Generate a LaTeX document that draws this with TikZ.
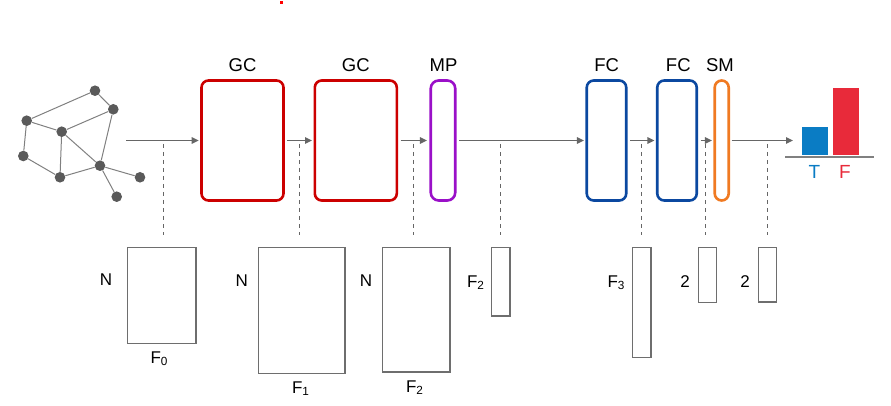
\documentclass[tikz,border=0pt]{standalone}
\usepackage{fontspec}
\setmainfont{Liberation Sans}
\usetikzlibrary{arrows.meta}
\definecolor{gcred}{HTML}{CC0000}
\definecolor{mppurple}{HTML}{9A10C8}
\definecolor{fcblue}{HTML}{0B48A0}
\definecolor{smorange}{HTML}{F07A22}
\definecolor{barblue}{HTML}{0A7CC4}
\definecolor{barred}{HTML}{E82A3A}
\definecolor{linegray}{HTML}{666666}
\definecolor{nodegray}{HTML}{5A5A5A}
\definecolor{edgegray}{HTML}{808080}
\definecolor{boxgray}{HTML}{6E6E6E}
\newcommand{\subidx}[1]{\raisebox{-1.8pt}{\fontsize{11.8}{12}\selectfont #1}}
\begin{document}
\begin{tikzpicture}[x=1pt,y=-1pt,
  every node/.style={font=\fontsize{17}{19}\selectfont},
  layer/.style={draw, line width=2.6pt, rounded corners=7pt, inner sep=0pt, fill=white},
  gnode/.style={circle, fill=nodegray, inner sep=0pt, minimum size=10.6pt},
  gedge/.style={edgegray, line width=1pt},
  arr/.style={linegray, line width=1.5pt, -{Triangle[length=7pt,width=6.5pt]}},
  dashln/.style={linegray, line width=1pt, dash pattern=on 4pt off 4pt},
  mat/.style={draw=boxgray, line width=1.6pt, inner sep=0pt, anchor=north west},
  lbl/.style={inner sep=0pt},
  toplbl/.style={inner sep=0pt, font=\fontsize{18.5}{20}\selectfont},
  clslbl/.style={inner sep=0pt, font=\fontsize{19}{21}\selectfont}
]
\useasboundingbox (0,0) rectangle (891,406);
\fill[red] (279.5,1.5) rectangle (282.5,4.5);

% input graph
\node[gnode] (n1) at (95,90.7) {};
\node[gnode] (n2) at (113.3,109.3) {};
\node[gnode] (n3) at (26.7,120.7) {};
\node[gnode] (n4) at (61.7,131.7) {};
\node[gnode] (n5) at (23.3,156) {};
\node[gnode] (n6) at (100,165.7) {};
\node[gnode] (n7) at (60,177.3) {};
\node[gnode] (n8) at (140,177.3) {};
\node[gnode] (n9) at (116.7,196.7) {};
\draw[gedge] (n1) -- (n3);
\draw[gedge] (n1) -- (n2);
\draw[gedge] (n3) -- (n4);
\draw[gedge] (n4) -- (n2);
\draw[gedge] (n2) -- (n6);
\draw[gedge] (n3) -- (n5);
\draw[gedge] (n5) -- (n7);
\draw[gedge] (n4) -- (n7);
\draw[gedge] (n4) -- (n6);
\draw[gedge] (n7) -- (n6);
\draw[gedge] (n6) -- (n8);
\draw[gedge] (n6) -- (n9);

% layers
\node[layer, draw=gcred, minimum width=82pt, minimum height=120pt] (gc1) at (242.5,140.5) {};
\node[layer, draw=gcred, minimum width=82pt, minimum height=120pt] (gc2) at (355.8,140.5) {};
\node[layer, draw=mppurple, rounded corners=8pt, minimum width=24.5pt, minimum height=120pt] (mp) at (443,140.5) {};
\node[layer, draw=fcblue, minimum width=39.5pt, minimum height=120pt] (fc1) at (606.5,140.5) {};
\node[layer, draw=fcblue, minimum width=39.5pt, minimum height=120pt] (fc2) at (677,140.5) {};
\node[layer, draw=smorange, rounded corners=7pt, minimum width=14pt, minimum height=120pt] (sm) at (721.7,140.5) {};

\node[toplbl] at (242.5,65.5) {GC};
\node[toplbl] at (355.8,65.5) {GC};
\node[toplbl] at (443.5,65.5) {MP};
\node[toplbl] at (606.7,65.5) {FC};
\node[toplbl] at (678.3,65.5) {FC};
\node[toplbl] at (720,65.5) {SM};

% output bars
\fill[barblue] (801.7,126.7) rectangle (827.7,155.3);
\fill[barred] (833.3,88.3) rectangle (859,155.3);
\draw[color=edgegray, line width=2pt] (785,156.7) -- (874.3,156.7);
\node[clslbl, text=barblue] (tl) at (814.3,172) {T};
\node[clslbl, text=barred] (fl) at (845,172) {F};

% main arrows
\coordinate (a0) at (126,140.5);
\coordinate (a6) at (793,140.5);
\draw[arr] (a0) -- ([xshift=-1.5pt]gc1.west);
\draw[arr] ([xshift=2.5pt]gc1.east) -- ([xshift=-1.5pt]gc2.west);
\draw[arr] ([xshift=2.5pt]gc2.east) -- ([xshift=-2.5pt]mp.west);
\draw[arr] ([xshift=2.5pt]mp.east) -- ([xshift=-1.5pt]fc1.west);
\draw[arr] ([xshift=2.5pt]fc1.east) -- ([xshift=-1.5pt]fc2.west);
\draw[arr] ([xshift=2.5pt]fc2.east) -- ([xshift=-1.5pt]sm.west);
\draw[arr] ([xshift=1.5pt]sm.east) -- (a6);

% feature matrices
\node[mat, minimum width=68.3pt, minimum height=96pt] (r0) at (126.7,246.7) {};
\node[mat, minimum width=86.3pt, minimum height=126pt] (r1) at (257.7,246.7) {};
\node[mat, minimum width=67.6pt, minimum height=124.3pt] (r2) at (381.7,246.7) {};
\node[mat, minimum width=18.6pt, minimum height=68.3pt] (r3) at (490.7,246.7) {};
\node[mat, minimum width=18.3pt, minimum height=110pt] (r4) at (631.7,246.7) {};
\node[mat, minimum width=18pt, minimum height=55pt] (r5) at (697.7,246.7) {};
\node[mat, minimum width=18pt, minimum height=54.5pt] (r6) at (757.7,246.7) {};

\node[lbl] at (106,279.5) {N};
\node[lbl] at (159,358.5) {F\subidx{0}};
\node[lbl] at (241.7,281) {N};
\node[lbl] at (300.5,388.5) {F\subidx{1}};
\node[lbl] at (366,281) {N};
\node[lbl] at (414.5,388) {F\subidx{2}};
\node[lbl] at (475.5,283) {F\subidx{2}};
\node[lbl] at (616,283) {F\subidx{3}};
\node[lbl] at (685,282) {2};
\node[lbl] at (745,282) {2};

% dashed taps
\foreach \x/\k in {163.3/0,299.5/1,413.3/2,500/3,641/4,705.7/5,767/6} {
  \coordinate (dt\k) at (\x,144);
  \coordinate (db\k) at (\x,235);
  \draw[dashln] (dt\k) -- (db\k);
}
\end{tikzpicture}
\end{document}
